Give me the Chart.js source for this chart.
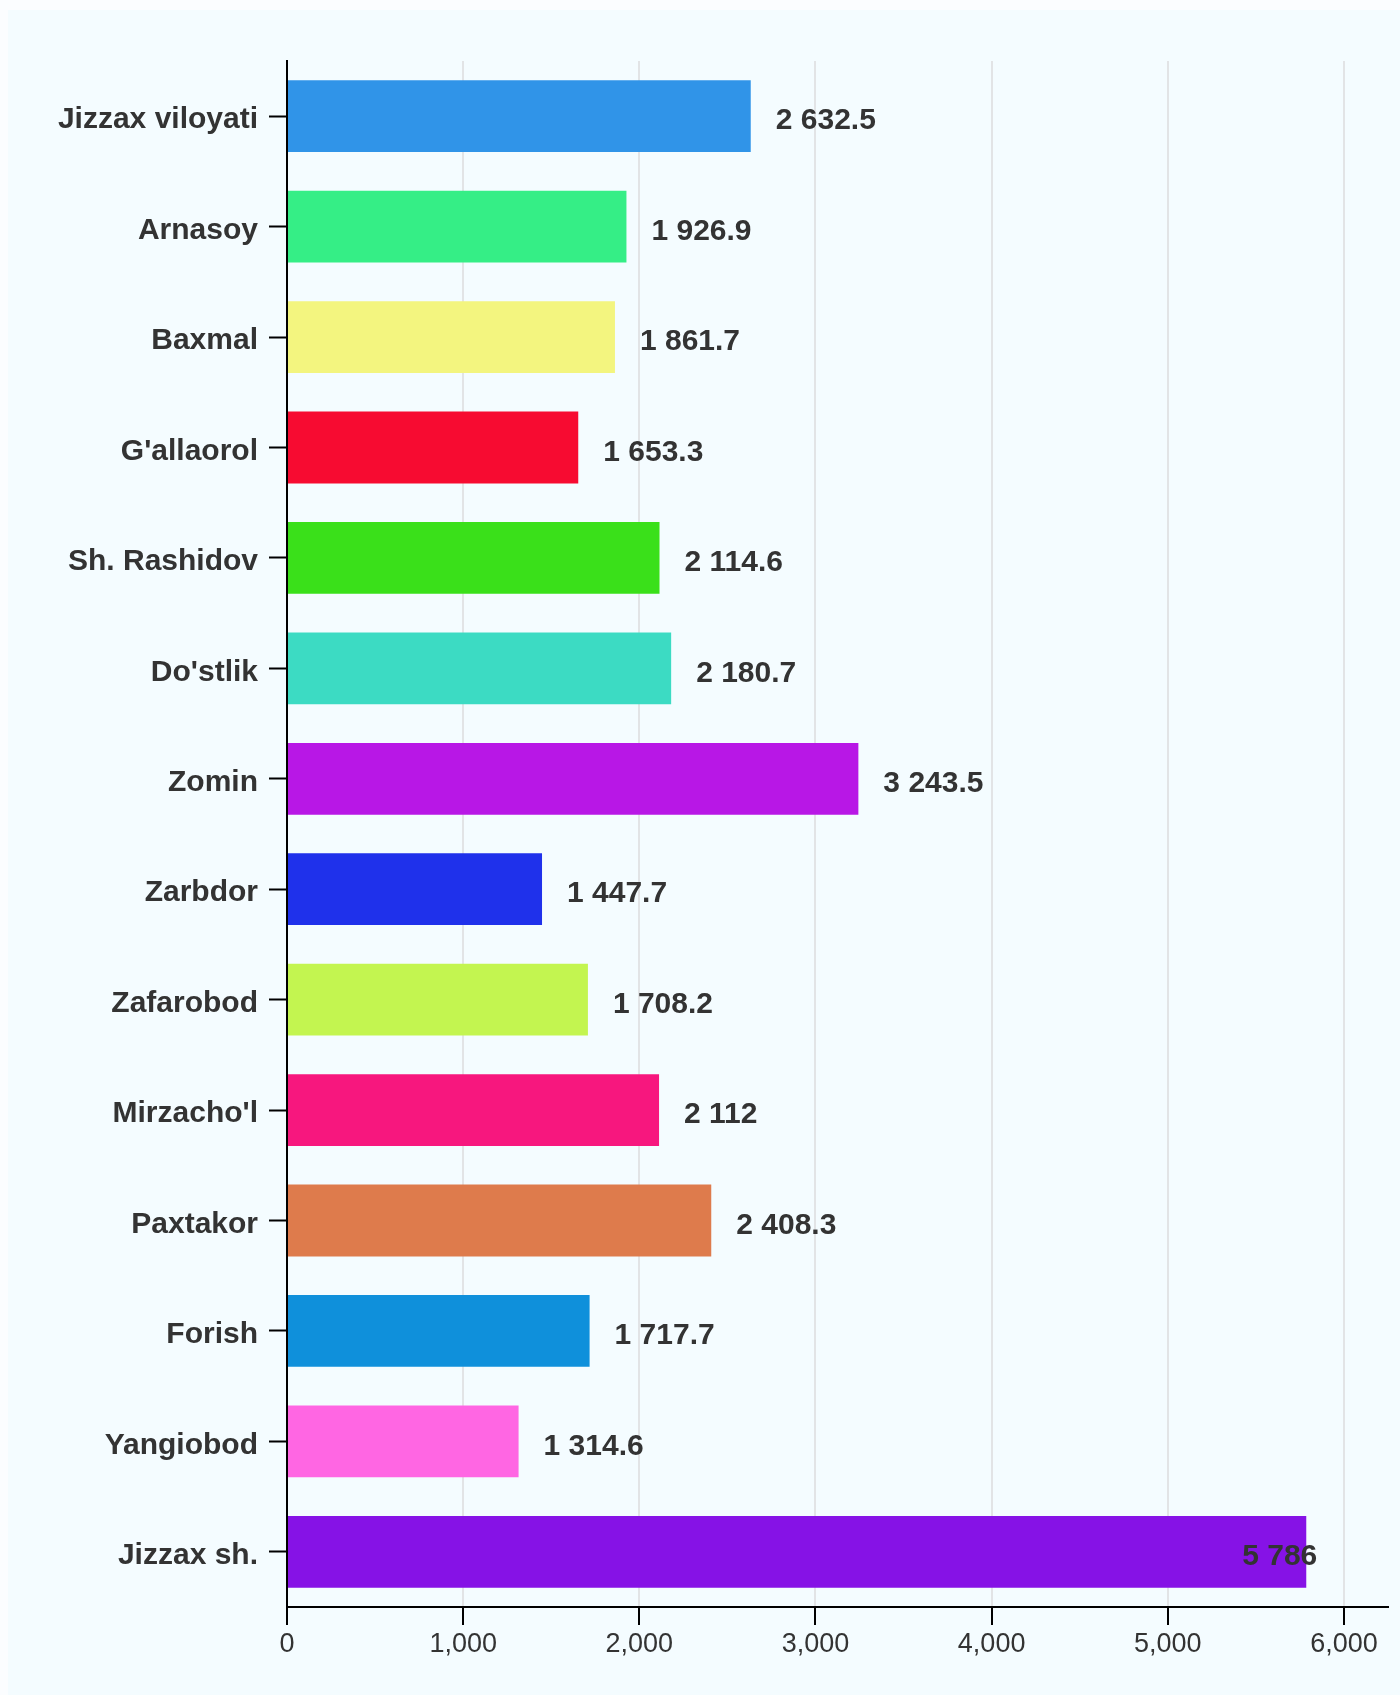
<!DOCTYPE html>
<html>
<head>
<meta charset="utf-8">
<script src="https://cdn.jsdelivr.net/npm/chart.js@4.4.1/dist/chart.umd.min.js"></script>
<style>
  html, body { margin: 0; padding: 0; background: #fbfdff; }
  #panel { position: absolute; left: 8px; top: 10px; width: 1392px; height: 1685px; background: #f4fcff; }
  #myChart { position: absolute; left: 0; top: 0; }
</style>
</head>
<body>
<div id="panel"></div>
<canvas id="myChart" width="1400" height="1695"></canvas>
<script>
const regions = [
  "Jizzax viloyati", "Arnasoy", "Baxmal", "G'allaorol", "Sh. Rashidov",
  "Do'stlik", "Zomin", "Zarbdor", "Zafarobod", "Mirzacho'l",
  "Paxtakor", "Forish", "Yangiobod", "Jizzax sh."
];
const values = [
  2632.5, 1926.9, 1861.7, 1653.3, 2114.6,
  2180.7, 3243.5, 1447.7, 1708.2, 2112,
  2408.3, 1717.7, 1314.6, 5786
];
const barColors = [
  "#3094e8", "#35ee86", "#f3f57f", "#f70b31", "#3ae01a",
  "#3cdbc3", "#b817e6", "#1f31eb", "#c3f550", "#f7177e",
  "#de7b4c", "#0f90db", "#ff66e3", "#8612e6"
];
const xTicks = [0, 1000, 2000, 3000, 4000, 5000, 6000];

const FONT = "'Liberation Sans', Arial, Helvetica, sans-serif";

// "2632.5" -> "2 632.5"
function fmt(v) {
  const parts = String(v).split(".");
  parts[0] = parts[0].replace(/\B(?=(\d{3})+(?!\d))/g, " ");
  return parts.join(".");
}

// value labels right of each bar
const valueLabels = {
  id: "valueLabels",
  afterDatasetsDraw(chart) {
    const ctx = chart.ctx;
    const area = chart.chartArea;
    const meta = chart.getDatasetMeta(0);
    ctx.save();
    ctx.font = "bold 30px " + FONT;
    ctx.fillStyle = "#333333";
    ctx.textBaseline = "middle";
    ctx.textAlign = "left";
    meta.data.forEach((bar, i) => {
      const text = fmt(values[i]);
      const w = ctx.measureText(text).width;
      let x = bar.x + 25;
      if (x + w > area.right) {
        // no room on the right: pull it back over the bar end
        x = bar.x - w + 11;
      }
      ctx.fillText(text, x, bar.y + 5);
    });
    ctx.restore();
  },
};

const ctx = document.getElementById("myChart").getContext("2d");
const myChart = new Chart(ctx, {
  type: "bar",
  data: {
    labels: regions,
    datasets: [
      {
        data: values,
        backgroundColor: barColors,
        borderWidth: 0,
        categoryPercentage: 1,
        barPercentage: 0.65,
      },
    ],
  },
  options: {
    indexAxis: "y",
    responsive: false,
    animation: false,
    layout: {
      padding: { top: 61, right: 12, left: 0, bottom: 0 },
    },
    plugins: {
      legend: { display: false },
      tooltip: { enabled: false },
    },
    scales: {
      x: {
        min: 0,
        max: 6250,
        afterBuildTicks: (axis) => {
          axis.ticks = xTicks.map((v) => ({ value: v }));
        },
        afterFit: (scale) => {
          scale.height = 88;
        },
        grid: {
          color: "#e2e4e6",
          lineWidth: 2,
          tickColor: "#000000",
          tickLength: 18,
          tickWidth: 2,
        },
        border: { color: "#000000", width: 2 },
        ticks: {
          color: "#333333",
          padding: 3,
          maxRotation: 0,
          font: { family: FONT, size: 27 },
          callback: (v) => v.toLocaleString("en-US"),
        },
      },
      y: {
        afterFit: (scale) => {
          scale.width = 287;
        },
        grid: {
          offset: false,
          drawOnChartArea: false,
          tickColor: "#000000",
          tickLength: 18,
          tickWidth: 2,
        },
        border: { color: "#000000", width: 2 },
        ticks: {
          color: "#333333",
          padding: 11,
          labelOffset: 4,
          font: { family: FONT, size: 30, weight: "bold" },
        },
      },
    },
  },
  plugins: [valueLabels],
});
</script>
</body>
</html>
